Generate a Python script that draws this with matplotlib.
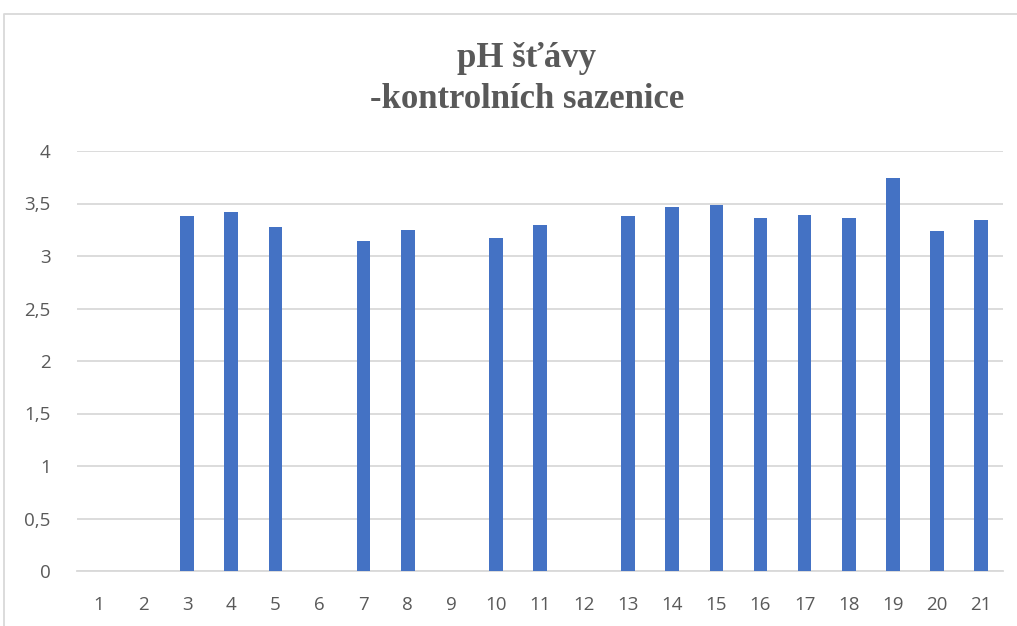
import matplotlib
matplotlib.use("Agg")
import matplotlib.pyplot as plt
from matplotlib.lines import Line2D

categories = [str(i) for i in range(1, 22)]
values = [0, 0, 3.38, 3.42, 3.28, 0, 3.145, 3.25, 0, 3.17, 3.30, 0,
          3.38, 3.47, 3.485, 3.36, 3.39, 3.36, 3.74, 3.24, 3.34]
yticks = [0, 0.5, 1, 1.5, 2, 2.5, 3, 3.5, 4]
ytick_labels = ["0", "0,5", "1", "1,5", "2", "2,5", "3", "3,5", "4"]
title = "pH šťávy\n-kontrolních sazenice"

W, H = 1017, 626
fig = plt.figure(figsize=(W / 100, H / 100), dpi=100)
ax = fig.add_axes([77 / W, 1 - 571 / H, (1003 - 77) / W, (571 - 151) / H])

x = list(range(len(categories)))
ax.bar(x, values, width=0.31, color="#4472C4", zorder=3)
ax.set_xlim(-0.5, len(categories) - 0.5)
ax.set_ylim(0, 4)
ax.set_yticks(yticks)
ax.set_yticklabels(ytick_labels)
ax.set_xticks(x)
ax.set_xticklabels(categories)
ax.grid(axis="y", color="#d9d9d9", linewidth=1.3, zorder=0)
for s in ["top", "right", "left"]:
    ax.spines[s].set_visible(False)
ax.spines["bottom"].set_color("#d9d9d9")
ax.spines["bottom"].set_linewidth(1.3)
ax.tick_params(axis="both", length=0, labelsize=13.5, labelcolor="#595959",
               labelfontfamily="Open Sans")
ax.tick_params(axis="y", pad=19)
ax.tick_params(axis="x", pad=18)

fig.text(527 / W, 1 - 79 / H, title, ha="center", va="center", fontsize=25,
         fontweight="bold", color="#595959", family="Liberation Serif",
         linespacing=1.3, multialignment="center")

# chart border (partially visible)
fig.add_artist(Line2D([4 / W, 4 / W, 1.0], [0.0, 1 - 14 / H, 1 - 14 / H],
                      transform=fig.transFigure, color="#d9d9d9", linewidth=1.3))

fig.savefig("out.png", dpi=100, facecolor="white")
